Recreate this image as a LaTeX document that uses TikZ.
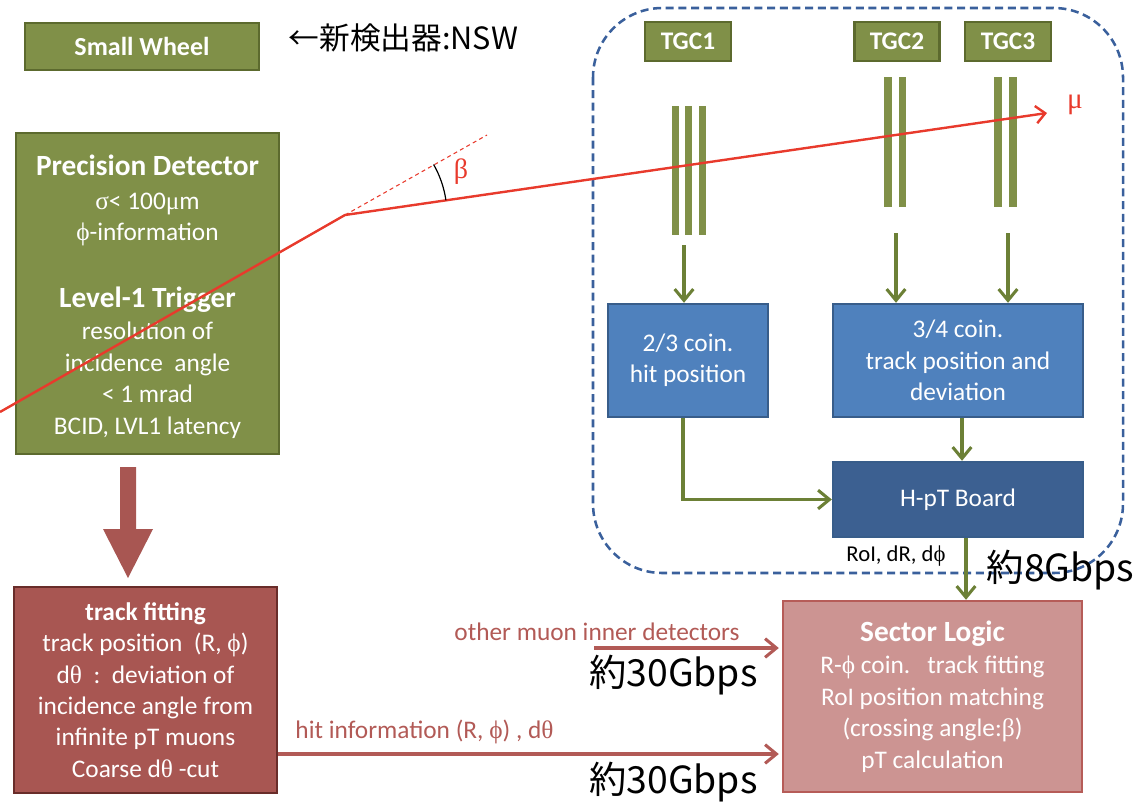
\documentclass[tikz,border=0pt]{standalone}
\usepackage{fontspec}
\setmainfont{Carlito}
\newfontfamily\grk{Liberation Serif}
\newfontfamily\jp{Noto Sans CJK JP}
\usetikzlibrary{arrows.meta,calc}

\def\pxu{0.75pt}
\definecolor{olivefill}{RGB}{128,144,72}
\definecolor{oliveedge}{RGB}{92,106,46}
\definecolor{olivearrow}{RGB}{108,128,54}
\definecolor{bluefill}{RGB}{79,129,189}
\definecolor{blueedge}{RGB}{56,93,138}
\definecolor{hptfill}{RGB}{60,96,145}
\definecolor{trackfill}{RGB}{168,86,82}
\definecolor{trackedge}{RGB}{105,45,42}
\definecolor{sectorfill}{RGB}{204,148,146}
\definecolor{sectoredge}{RGB}{182,92,88}
\definecolor{brownline}{RGB}{178,90,86}
\definecolor{muonred}{RGB}{232,58,44}
\definecolor{framedash}{RGB}{58,96,156}

\newcommand{\gr}[1]{{\grk #1}}

\tikzset{
  boxbase/.style={draw, line width=1.8pt, inner sep=0pt, align=center, text=white},
  olivebox/.style={boxbase, fill=olivefill, draw=oliveedge},
  bluebox/.style={boxbase, fill=bluefill, draw=blueedge},
  hptbox/.style={boxbase, fill=hptfill, draw=blueedge},
  trackbox/.style={boxbase, fill=trackfill, draw=trackedge},
  sectorbox/.style={boxbase, fill=sectorfill, draw=sectoredge},
  greenflow/.style={draw=olivearrow, line width=2.3pt, -{Straight Barb[length=8.5pt,width=14pt,line width=2.3pt]}},
  brownflow/.style={draw=brownline, line width=2.3pt, -{Straight Barb[length=8.5pt,width=14pt,line width=2.3pt]}},
  body/.style={font=\fontsize{19}{23.6}\selectfont},
  ratetext/.style={font=\jp\fontsize{28}{32}\selectfont, text=black, inner sep=0pt},
  stripbar/.style={fill=olivefill},
}

\begin{document}
\begin{tikzpicture}[x=0.75pt, y=-0.75pt]
\useasboundingbox (0,0) rectangle (1134,807);

% dashed frame around the TGC chain
\draw[framedash, line width=1.9pt, dash pattern=on 6pt off 3.5pt, rounded corners=52pt]
  (593,8) rectangle (1123,573);

% top-left: small wheel
\node[olivebox, minimum width=234*\pxu, minimum height=47*\pxu,
      font=\bfseries\fontsize{19.5}{23}\selectfont] (sw) at (142,46.5) {Small Wheel};
\node[font=\jp\fontsize{23}{26}\selectfont, inner sep=0pt] (nswlabel) at (403.5,37.5) {←新検出器:NSW};

% precision detector: frame and its text block
\node[olivebox, minimum width=263*\pxu, minimum height=321*\pxu] (prec) at (147.5,293.5) {};
\node[body, text=white, align=center, inner sep=0pt] (prectext) at (147.5,296.5)
  {{\bfseries\fontsize{22}{23.6}\selectfont Precision Detector}\\[2pt]
   \gr{σ}< 100\gr{μ}m\\
   \gr{ϕ}-information\\[26pt]
   {\bfseries\fontsize{22}{23.6}\selectfont Level-1 Trigger}\\[1pt]
   resolution of\\
   incidence\ \ angle\\
   < 1 mrad\\
   BCID, LVL1 latency};

% TGC stations
\node[olivebox, minimum width=86*\pxu, minimum height=39*\pxu,
      font=\bfseries\fontsize{19}{23}\selectfont] (tgc1) at (688,41.5) {TGC1};
\node[olivebox, minimum width=85*\pxu, minimum height=39*\pxu,
      font=\bfseries\fontsize{19}{23}\selectfont] (tgc2) at (897,41.5) {TGC2};
\node[olivebox, minimum width=86*\pxu, minimum height=39*\pxu,
      font=\bfseries\fontsize{19}{23}\selectfont] (tgc3) at (1008,41.5) {TGC3};

% chamber layers
\fill[stripbar] (672,106) rectangle (679,235);
\fill[stripbar] (684.5,106) rectangle (691.5,235);
\fill[stripbar] (698.5,106) rectangle (705.5,235);
\fill[stripbar] (884,77) rectangle (891.5,207);
\fill[stripbar] (898.5,77) rectangle (906,207);
\fill[stripbar] (994,77) rectangle (1001.5,207);
\fill[stripbar] (1009,77) rectangle (1016.5,207);

% coincidence boards
\node[bluebox, minimum width=160*\pxu, minimum height=113*\pxu, body] (coin23) at (688,360.5)
  {2/3 coin.\\hit position};
\node[bluebox, minimum width=250*\pxu, minimum height=113*\pxu, body] (coin34) at (958,360.5)
  {3/4 coin.\\track position and\\deviation};
\node[hptbox, minimum width=250*\pxu, minimum height=75*\pxu, body] (hpt) at (958,499.5)
  {H-pT Board};

% track fitting and sector logic
\node[trackbox, minimum width=263*\pxu, minimum height=206*\pxu, body] (track) at (145.5,690)
  {{\bfseries track fitting}\\
   track position\ \ (R, \gr{ϕ})\\
   d\gr{θ}\ \ :\ \ deviation of\\
   incidence angle from\\
   infinite pT muons\\
   Coarse d\gr{θ} -cut};
\node[sectorbox, minimum width=299*\pxu, minimum height=191*\pxu, body] (sector) at (932.5,696.5)
  {{\bfseries\fontsize{22}{23.6}\selectfont Sector Logic}\\[1pt]
   R-\gr{ϕ} coin.\ \ \ track fitting\\
   RoI position matching\\
   (crossing angle:\gr{β})\\
   pT calculation};

% muon track
\coordinate (mustart) at (0,412);
\coordinate (kink) at (345,215);
\coordinate (muend) at (1047,113);
\coordinate (dashend) at (487,135);
\draw[muonred, line width=1.8pt, -{Straight Barb[length=7pt,width=13pt,line width=1.8pt]}]
  (mustart) -- (kink) -- (muend);
\draw[muonred, line width=0.8pt, dash pattern=on 3pt off 2.5pt] (kink) -- (dashend);
\draw[black, line width=0.9pt] ([shift={(8.27:76.5pt)}]kink) arc[start angle=8.27, end angle=29.7, radius=76.5pt];
\node[text=muonred, font=\grk\fontsize{21}{24}\selectfont, inner sep=0pt] (betalbl) at (461,172) {β};
\node[text=muonred, font=\grk\fontsize{22}{24}\selectfont, inner sep=0pt] (mulbl) at (1075,105) {μ};

% big downward arrow between the two left blocks
\fill[trackfill] (120,467) -- (136,467) -- (136,529) -- (153,529) -- (128,578)
  -- (103,529) -- (120,529) -- cycle;

% TGC readout
\coordinate (t1out) at (684,245);
\coordinate (t2out) at (896,233);
\coordinate (t3out) at (1008,233);
\draw[greenflow] (t1out) -- (t1out |- coin23.north);
\draw[greenflow] (t2out) -- (t2out |- coin34.north);
\draw[greenflow] (t3out) -- (t3out |- coin34.north);
\draw[greenflow] ([xshift=-5*\pxu]coin23.south) |- (hpt.west);
\draw[greenflow] ([xshift=4*\pxu]coin34.south) -- ([xshift=4*\pxu]hpt.north);
\draw[greenflow] ([xshift=8*\pxu]hpt.south) -- ([xshift=8*\pxu]hpt.south |- sector.north);

% inputs to the sector logic
\coordinate (hity) at (0,754);
\coordinate (othstart) at (594,648);
\draw[brownflow] (track.east |- hity) -- ([xshift=-3*\pxu]sector.west |- hity);
\draw[brownflow] (othstart) -- ([xshift=-3*\pxu]sector.west |- othstart);

% labels
\node[text=brownline, body, inner sep=0pt] (otherlbl) at (597,632) {other muon inner detectors};
\node[text=brownline, body, inner sep=0pt] (hitlbl) at (424.5,732) {hit information (R, \gr{ϕ}) , d\gr{θ}};
\node[font=\fontsize{17}{20}\selectfont, inner sep=0pt] (roilbl) at (896,556) {RoI, dR, d\gr{ϕ}};
\node[ratetext] (rate1) at (673.5,675) {約30Gbps};
\node[ratetext] (rate2) at (673.5,782) {約30Gbps};
\node[ratetext] (rate3) at (1060.5,570) {約8Gbps};
\end{tikzpicture}
\end{document}
